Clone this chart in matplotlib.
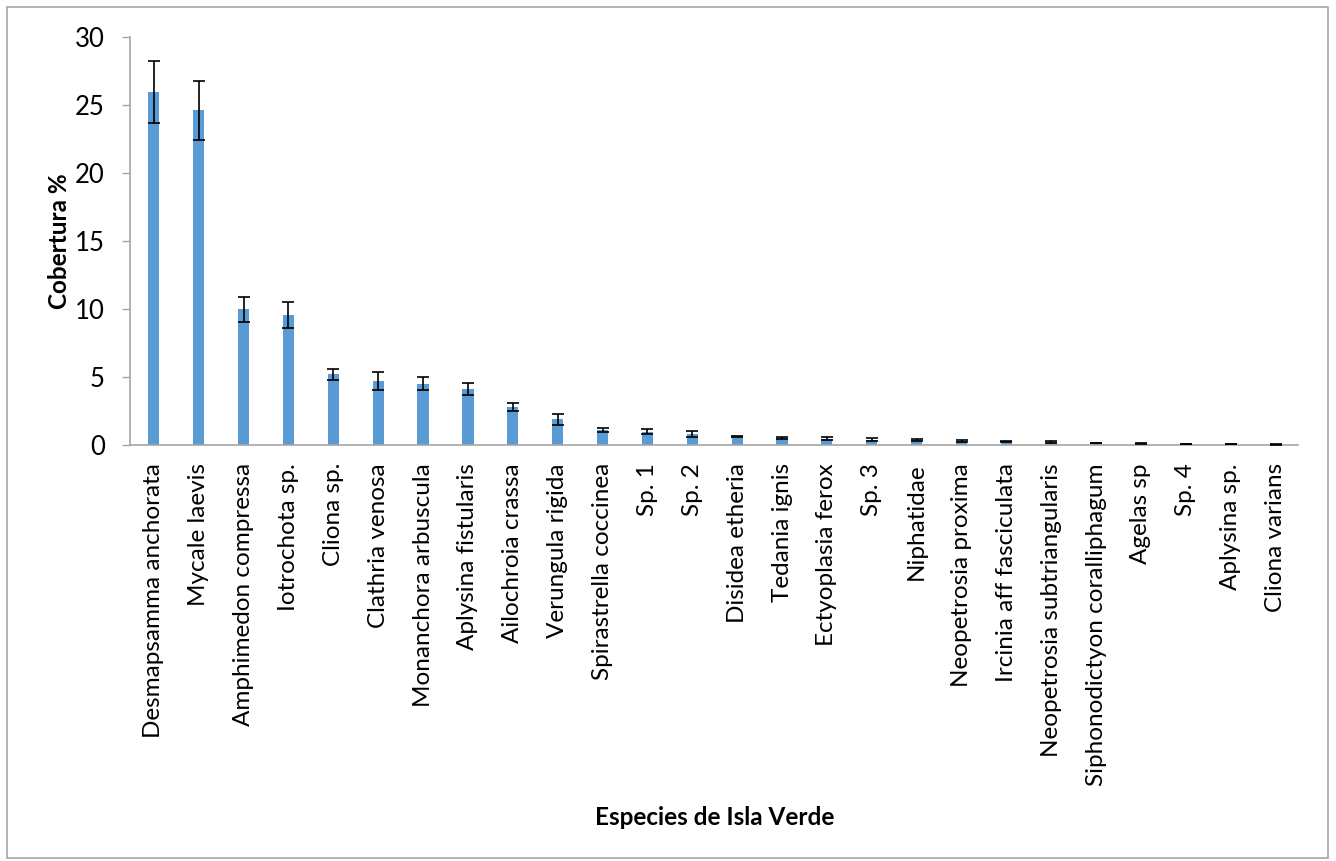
import matplotlib
matplotlib.use("Agg")
import matplotlib.pyplot as plt
from matplotlib.patches import Rectangle

species = [
    "Desmapsamma anchorata", "Mycale laevis", "Amphimedon compressa",
    "Iotrochota sp.", "Cliona sp.", "Clathria venosa", "Monanchora arbuscula",
    "Aplysina fistularis", "Ailochroia crassa", "Verungula rigida",
    "Spirastrella coccinea", "Sp. 1", "Sp. 2", "Disidea etheria",
    "Tedania ignis", "Ectyoplasia ferox", "Sp. 3", "Niphatidae",
    "Neopetrosia proxima", "Ircinia aff fasciculata",
    "Neopetrosia subtriangularis", "Siphonodictyon coralliphagum",
    "Agelas sp", "Sp. 4", "Aplysina sp.", "Cliona varians",
]
cobertura = [
    25.95, 24.6, 9.98, 9.55, 5.2, 4.7, 4.52, 4.12, 2.82, 1.88,
    1.08, 0.98, 0.8, 0.62, 0.52, 0.47, 0.4, 0.38,
    0.28, 0.26, 0.24, 0.14, 0.1, 0.07, 0.05, 0.03,
]
error = [
    2.25, 2.15, 0.93, 0.98, 0.42, 0.68, 0.49, 0.46, 0.29, 0.41,
    0.14, 0.18, 0.24, 0.05, 0.1, 0.08, 0.12, 0.07,
    0.05, 0.05, 0.07, 0.03, 0.02, 0.02, 0.01, 0.01,
]
yticks = [0, 5, 10, 15, 20, 25, 30]

plt.rcParams["font.family"] = ["Lato", "DejaVu Sans"]

fig = plt.figure(figsize=(13.36, 8.61), dpi=100)
ax = fig.add_axes([0.0973, 0.4832, 0.8743, 0.4738])

x = list(range(len(species)))
ax.bar(x, cobertura, width=0.25, color="#5B9BD5", zorder=2)
ax.errorbar(x, cobertura, yerr=error, fmt="none", ecolor="black",
            elinewidth=1.2, capsize=4, capthick=1.2, zorder=3)

ax.set_xlim(-0.53, 25.5)
ax.set_ylim(0, 30)
ax.set_yticks(yticks)
ax.set_yticklabels([str(t) for t in yticks], fontsize=18.5)
ax.set_xticks(x)
ax.set_xticklabels(species, rotation=90, fontsize=17.5)
ax.tick_params(axis="x", length=0, pad=13)
ax.tick_params(axis="y", length=6, width=1, color="#A6A6A6", pad=12)

for side in ("top", "right"):
    ax.spines[side].set_visible(False)
for side in ("left", "bottom"):
    ax.spines[side].set_color("#A6A6A6")
    ax.spines[side].set_linewidth(1.2)

ax.set_ylabel("Cobertura %", fontsize=17.5, fontweight="bold", labelpad=3)
fig.text(0.535, 0.051, "Especies de Isla Verde", fontsize=17.5,
         fontweight="bold", ha="center", va="center")

# outer frame around the whole chart area
fig.patches.append(Rectangle((0.0052, 0.004), 0.9887, 0.988,
                             transform=fig.transFigure, fill=False,
                             edgecolor="#A6A6A6", linewidth=1.2))

fig.savefig("out.png", dpi=100)
